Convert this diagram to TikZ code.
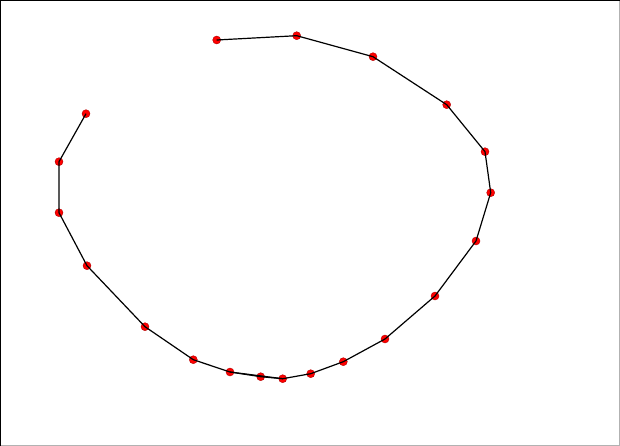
\documentclass[tikz,border=0pt]{standalone}
\begin{document}
\begin{tikzpicture}[x=1pt,y=-1pt,
  dot/.style={circle,fill=red,draw=red!70!black,line width=0.4pt,inner sep=0pt,minimum size=8pt},
  link/.style={black,line width=1.2pt}]
\useasboundingbox (0,0) rectangle (620,446);
\fill[white] (0,0) rectangle (620,446);
\draw[gray!60,line width=1.5pt] (620,0) -- (620,446) -- (0,446);
\draw[black,line width=2pt] (0,446) -- (0,0) -- (620,0);
\foreach \n/\x/\y in {
 p1/216.7/40, p2/296.7/35.7, p3/373/56.7, p4/446.7/104.7, p5/485/151.7,
 p6/490.7/192.7, p7/476/241, p8/435/296, p9/385/339, p10/343.3/361.7,
 p11/310.7/373.7, p12/282.7/378.7, p13/260.7/376.7, p14/230/372, p15/193.3/359.7,
 p16/145/326.7, p17/87/265.7, p18/59/212.7, p19/59/161.7, p20/86/113.7}
 \node[dot] (\n) at (\x,\y) {};
\draw[link] (p1.center) -- (p2.center) -- (p3.center) -- (p4.center) -- (p5.center)
 -- (p6.center) -- (p7.center) -- (p8.center) -- (p9.center) -- (p10.center)
 -- (p11.center) -- (p12.center) -- (p13.center) -- (p14.center) -- (p15.center)
 -- (p16.center) -- (p17.center) -- (p18.center) -- (p19.center) -- (p20.center);
\draw[link] (p14.center) -- (p12.center);
\end{tikzpicture}
\end{document}
